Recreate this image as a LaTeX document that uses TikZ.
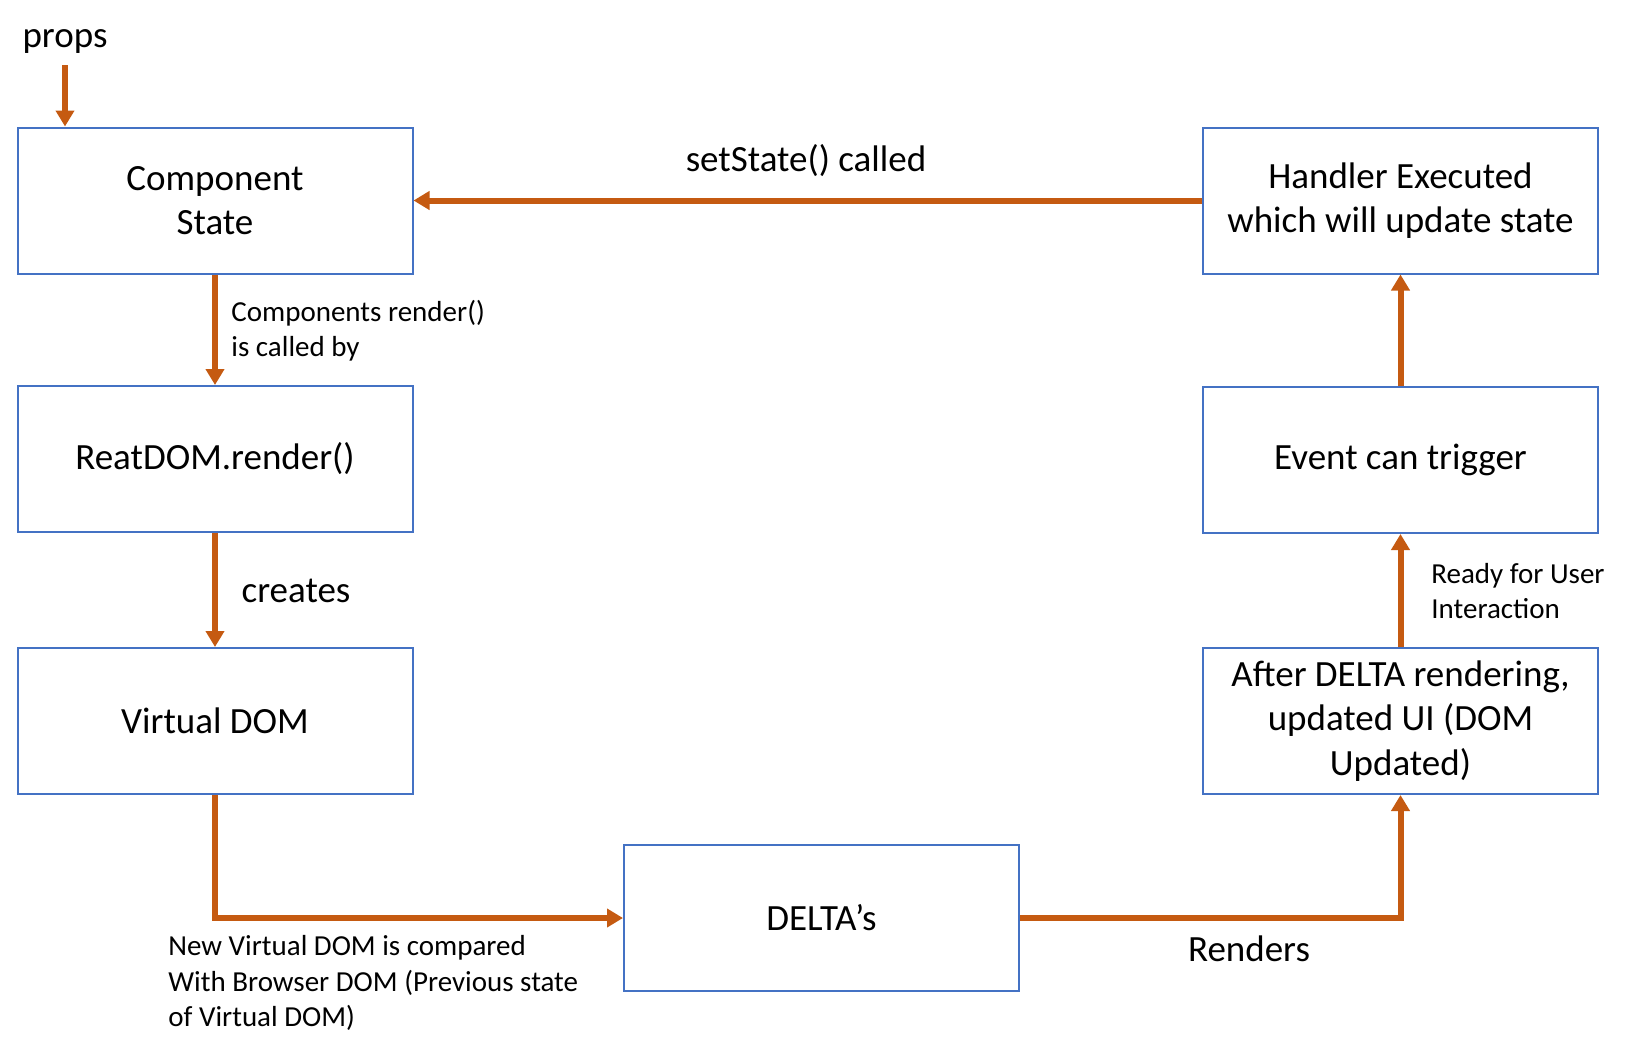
\documentclass[tikz,border=0pt]{standalone}
\usepackage{fontspec}
\setmainfont{Carlito}
\usetikzlibrary{arrows.meta}
\definecolor{arrorange}{HTML}{C55A11}
\definecolor{boxblue}{HTML}{4472C4}
\tikzset{
  flowbox/.style={draw=boxblue, line width=1pt, fill=white, minimum width=197.5pt, minimum height=73pt,
    inner sep=2pt, align=center, font=\fontsize{18.5}{22.3}\selectfont, text=black},
  flowarrow/.style={draw=arrorange, line width=3pt, -{Triangle[length=8pt,width=9pt]}},
  bigtext/.style={inner sep=0pt, font=\fontsize{18.5}{22.3}\selectfont, text=black},
  smalltext/.style={inner sep=0pt, align=left, font=\fontsize{14.5}{17.6}\selectfont, text=black},
}
\begin{document}
\begin{tikzpicture}[x=0.5pt, y=-0.5pt]
  \useasboundingbox (0,0) rectangle (1629,1051);
  % boxes
  \node[flowbox] (comp) at (215,200.5) {Component\\State};
  \node[flowbox] (reat) at (215,459) {ReatDOM.render()};
  \node[flowbox] (virt) at (215,721) {Virtual DOM};
  \node[flowbox] (delta) at (821.5,918) {DELTA’s};
  \node[flowbox] (after) at (1400.5,721) {After DELTA rendering,\\updated UI (DOM\\Updated)};
  \node[flowbox] (event) at (1400.5,460) {Event can trigger};
  \node[flowbox] (handler) at (1400.5,200.5) {Handler Executed\\which will update state};
  % props
  \node[bigtext] (props) at (65,41) {props};
  \coordinate (propsstart) at (65,65);
  % connectors
  \draw[flowarrow] (propsstart) -- (propsstart |- comp.north);
  \draw[flowarrow] (comp.south) -- (reat.north);
  \draw[flowarrow] (reat.south) -- (virt.north);
  \draw[flowarrow] (virt.south) |- (delta.west);
  \draw[flowarrow] (delta.east) -| (after.south);
  \draw[flowarrow] (after.north) -- (event.south);
  \draw[flowarrow] (event.north) -- (handler.south);
  \draw[flowarrow] (handler.west) -- (comp.east);
  % labels
  \node[bigtext] (lblset) at (806,161) {setState() called};
  \node[smalltext, anchor=west] (lblrender) at (231,330.5) {Components render()\\is called by};
  \node[bigtext] (lblcreates) at (296,591) {creates};
  \node[smalltext, anchor=west] (lblcompare) at (168,983) {New Virtual DOM is compared\\With Browser DOM (Previous state\\of Virtual DOM)};
  \node[bigtext] (lblrenders) at (1249,949) {Renders};
  \node[smalltext, anchor=west] (lblready) at (1431,591) {Ready for User\\Interaction};
\end{tikzpicture}
\end{document}
